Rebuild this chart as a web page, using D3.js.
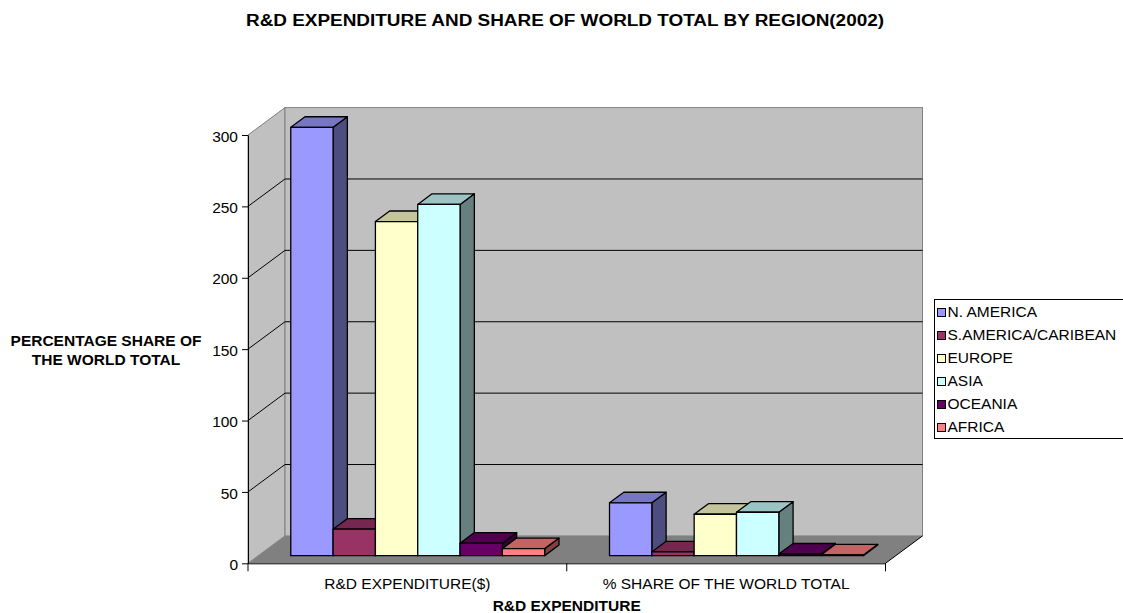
<!DOCTYPE html>
<html>
<head>
<meta charset="utf-8">
<script src="https://cdn.jsdelivr.net/npm/d3@7"></script>
<style>
  html, body { margin: 0; padding: 0; background: #fff; }
  svg { display: block; }
</style>
</head>
<body>
<script>
// ---- Data ----
const categories = ["R&D EXPENDITURE($)", "% SHARE OF THE WORLD TOTAL"];
const regions = ["N. AMERICA", "S.AMERICA/CARIBEAN", "EUROPE", "ASIA", "OCEANIA", "AFRICA"];
const nAmerica = [300, 37];
const sAmerica = [18.5, 2.6];
const europe = [234, 29];
const asia = [246, 30.4];
const oceania = [8.7, 1.1];
const africa = [4.9, 0.5];
const regionColors = ["#9999FF", "#993366", "#FFFFCC", "#CCFFFF", "#660066", "#FF8080"];
const yTicks = [0, 50, 100, 150, 200, 250, 300];

const series = [nAmerica, sAmerica, europe, asia, oceania, africa];
const rows = [];
categories.forEach((c, ci) => regions.forEach((r, ri) => rows.push({cat: c, region: r, value: series[ri][ci], color: regionColors[ri]})));

// ---- Layout ----
const W = 1123, H = 613;
const FS = 15.5;
const DX = 37, DY = -27.4;        // depth offset of the 3D box
const F1 = 0.28, F2 = 0.666;      // bar front/back depth fractions
const FONT = "Arial, 'Liberation Sans', sans-serif";
const svg = d3.select("body").append("svg")
  .attr("width", W).attr("height", H)
  .style("font-family", FONT);

const y = d3.scaleLinear().domain([0, 300]).range([563.3, 135]);
const x0 = d3.scaleBand().domain(categories).range([248, 885.5]).padding(0);
const inner = 32.4;
const x1 = d3.scaleBand().domain(regions).range([inner, x0.bandwidth() - inner]).padding(0);

const xL = 248, xR = 885.5;
const y0 = y(0), yTop = y(300);

// walls
svg.append("polygon")
  .attr("points", [[xL, yTop], [xL + DX, yTop + DY], [xL + DX, y0 + DY], [xL, y0]].join(" "))
  .attr("fill", "#c0c0c0").attr("stroke", "#808080");
svg.append("rect")
  .attr("x", xL + DX).attr("y", yTop + DY)
  .attr("width", xR - xL).attr("height", y0 - yTop)
  .attr("fill", "#c0c0c0").attr("stroke", "#808080");
// floor
svg.append("polygon")
  .attr("points", [[xL, y0], [xL + DX, y0 + DY], [xR + DX, y0 + DY], [xR, y0]].join(" "))
  .attr("fill", "#808080").attr("stroke", "none");
svg.append("line").attr("x1", xR).attr("y1", y0).attr("x2", xR + DX).attr("y2", y0 + DY)
  .attr("stroke", "#000");

// gridlines
const grid = yTicks.filter(t => t > 0 && t < 300);
svg.append("g").selectAll("line.gb").data(grid).join("line")
  .attr("x1", xL + DX).attr("x2", xR + DX)
  .attr("y1", d => y(d) + DY).attr("y2", d => y(d) + DY)
  .attr("stroke", "#000").attr("stroke-width", 1);
svg.append("g").selectAll("line.gs").data(grid).join("line")
  .attr("x1", xL).attr("x2", xL + DX)
  .attr("y1", d => y(d)).attr("y2", d => y(d) + DY)
  .attr("stroke", "#000").attr("stroke-width", 1);

// bars
function shade(c, k) { const r = d3.rgb(c); return d3.rgb(r.r * k, r.g * k, r.b * k).toString(); }
const barG = svg.append("g").attr("stroke", "#000").attr("stroke-width", 1.3).attr("stroke-linejoin", "round");
rows.forEach(d => {
  const xs = x0(d.cat) + x1(d.region), w = x1.bandwidth();
  const ox1 = DX * F1, oy1 = DY * F1, ox2 = DX * F2, oy2 = DY * F2;
  const yt = y(d.value), yb = y(0);
  barG.append("polygon")
    .attr("points", [[xs + w + ox1, yt + oy1], [xs + w + ox2, yt + oy2], [xs + w + ox2, yb + oy2], [xs + w + ox1, yb + oy1]].join(" "))
    .attr("fill", shade(d.color, 0.5));
  barG.append("polygon")
    .attr("points", [[xs + ox1, yt + oy1], [xs + w + ox1, yt + oy1], [xs + w + ox2, yt + oy2], [xs + ox2, yt + oy2]].join(" "))
    .attr("fill", shade(d.color, 0.77));
  barG.append("rect")
    .attr("x", xs + ox1).attr("y", yt + oy1)
    .attr("width", w).attr("height", yb - yt)
    .attr("fill", d.color);
});

// y axis
const yAxis = svg.append("g").attr("transform", `translate(${xL},0)`)
  .call(d3.axisLeft(y).tickValues(yTicks).tickSize(6).tickSizeOuter(0).tickPadding(4));
yAxis.select(".domain").attr("stroke", "#000");
yAxis.selectAll(".tick line").attr("stroke", "#000");
yAxis.selectAll("text").attr("font-size", FS).attr("font-family", FONT).attr("fill", "#000").attr("dy", "0.4em");

// x axis
const xAxis = svg.append("g").attr("transform", `translate(0,${y0})`)
  .call(d3.axisBottom(x0).tickSize(0).tickPadding(15));
xAxis.select(".domain").attr("stroke", "#000");
xAxis.selectAll("text").attr("font-size", FS).attr("font-family", FONT).attr("fill", "#000");
const bounds = categories.map(c => x0(c)).concat([x0(categories[categories.length - 1]) + x0.bandwidth()]);
xAxis.selectAll("line.bt").data(bounds).join("line")
  .attr("x1", d => d).attr("x2", d => d).attr("y1", 0).attr("y2", 8)
  .attr("stroke", "#000");

// titles
svg.append("text").attr("x", 565).attr("y", 25.7)
  .attr("text-anchor", "middle").attr("font-weight", "bold").attr("font-size", 16)
  .attr("textLength", 638).attr("lengthAdjust", "spacingAndGlyphs")
  .text("R&D EXPENDITURE AND SHARE OF WORLD TOTAL BY REGION(2002)");
svg.append("text").attr("x", 566.7).attr("y", 610.5)
  .attr("text-anchor", "middle").attr("font-weight", "bold").attr("font-size", FS)
  .text("R&D EXPENDITURE");
const ytl = svg.append("text").attr("text-anchor", "middle").attr("font-weight", "bold").attr("font-size", FS);
ytl.append("tspan").attr("x", 106).attr("y", 346).text("PERCENTAGE SHARE OF");
ytl.append("tspan").attr("x", 106).attr("y", 364.5).text("THE WORLD TOTAL");

// legend
const lg = svg.append("g");
lg.append("rect").attr("x", 934.5).attr("y", 299.5).attr("width", 200).attr("height", 139)
  .attr("fill", "#fff").attr("stroke", "#000");
regions.forEach((r, i) => {
  const base = 316.7 + i * 23;
  lg.append("rect").attr("x", 937.5).attr("y", base - 8.2).attr("width", 8).attr("height", 8)
    .attr("fill", regionColors[i]).attr("stroke", "#000");
  lg.append("text").attr("x", 947.5).attr("y", base).attr("font-size", FS).text(r);
});
</script>
</body>
</html>
